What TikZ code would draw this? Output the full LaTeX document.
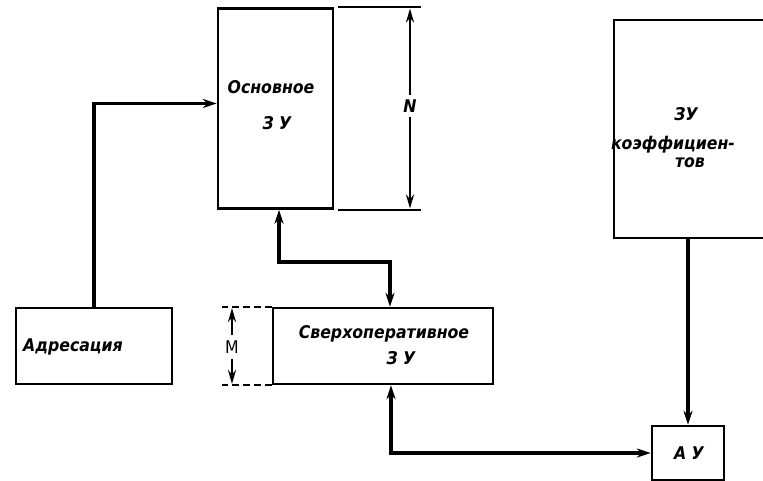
\documentclass[tikz,border=0pt]{standalone}
\usepackage{fontspec}
\setmainfont{DejaVu Sans Condensed}[ItalicFont={DejaVu Sans Condensed Bold Oblique},BoldFont={DejaVu Sans Condensed Bold}]
\usetikzlibrary{arrows.meta}
\begin{document}
\begin{tikzpicture}[x=1pt,y=-1pt,
  box/.style={draw,line width=2.4pt,inner sep=0pt},
  lbl/.style={font=\fontsize{17.5}{20}\selectfont\itshape,inner sep=0pt},
  conn/.style={line width=3.6pt,-{Stealth[length=14pt,width=9pt]}},
  conn2/.style={line width=3.6pt,{Stealth[length=14pt,width=9pt]}-{Stealth[length=14pt,width=9pt]}},
  dimline/.style={line width=1.8pt},
  dimarrow/.style={line width=2.8pt,-{Stealth[length=14pt,width=8pt]}},
  dimdash/.style={line width=1.6pt,dash pattern=on 7pt off 4pt}]
\fill[white] (0,0) rectangle (763,481);
\useasboundingbox (0,0) rectangle (763,481);
% boxes
\node[box,minimum width=115pt,minimum height=200pt] (osn) at (275.5,108.5) {};
\node[box,minimum width=156pt,minimum height=76pt] (adr) at (94,346) {};
\node[box,minimum width=220pt,minimum height=76pt] (sver) at (383,346) {};
\node[box,minimum width=72pt,minimum height=54pt] (ay) at (688,453) {};
\node[box,minimum width=156pt,minimum height=218pt] (coef) at (692,129) {};
% texts
\node[lbl] (t1) at (271,87) {Основное};
\node[lbl] (t2) at (277,123) {З У};
\node[lbl] (t3) at (73,347) {Адресация};
\node[lbl] (t4) at (384,334) {Сверхоперативное};
\node[lbl] (t5) at (401,358) {З У};
\node[lbl] (t6) at (689,453) {А У};
\node[lbl] (t7) at (686,114) {ЗУ};
\node[lbl] (t8) at (673,145) {коэффициен-};
\node[lbl] (t9) at (690,163) {тов};
% connectors
\draw[conn] (adr.north) |- ([yshift=5pt]osn.west);
\coordinate (m1) at (330,262);
\draw[conn2] ([xshift=3.5pt]osn.south) |- (m1) -| ([xshift=7pt]sver.north);
\draw[conn2] ([xshift=8pt]sver.south) |- (ay.west);
\draw[conn] (ay.north |- coef.south) -- (ay.north);
% N dimension
\coordinate (nt) at (410,8.5);
\coordinate (nb) at (410,208.5);
\draw[dimline] ([xshift=4pt]osn.north east) -- ++(83,0);
\draw[dimline] ([xshift=4pt]osn.south east) -- ++(83,0);
\node[font=\fontsize{17.5}{20}\selectfont\itshape,inner sep=4pt] (N) at (410,106) {N};
\draw[dimarrow] (N.north) -- (nt);
\draw[dimarrow] (N.south) -- (nb);
% M dimension
\coordinate (mt) at (232,308);
\coordinate (mb) at (232,384);
\draw[dimdash] (sver.north west) -- ++(-50,0);
\draw[dimdash] (sver.south west) -- ++(-50,0);
\node[font=\fontsize{17.5}{20}\selectfont,inner sep=5pt] (M) at (232,347) {M};
\draw[dimarrow] (M.north) -- (mt);
\draw[dimarrow] (M.south) -- (mb);
\end{tikzpicture}
\end{document}
